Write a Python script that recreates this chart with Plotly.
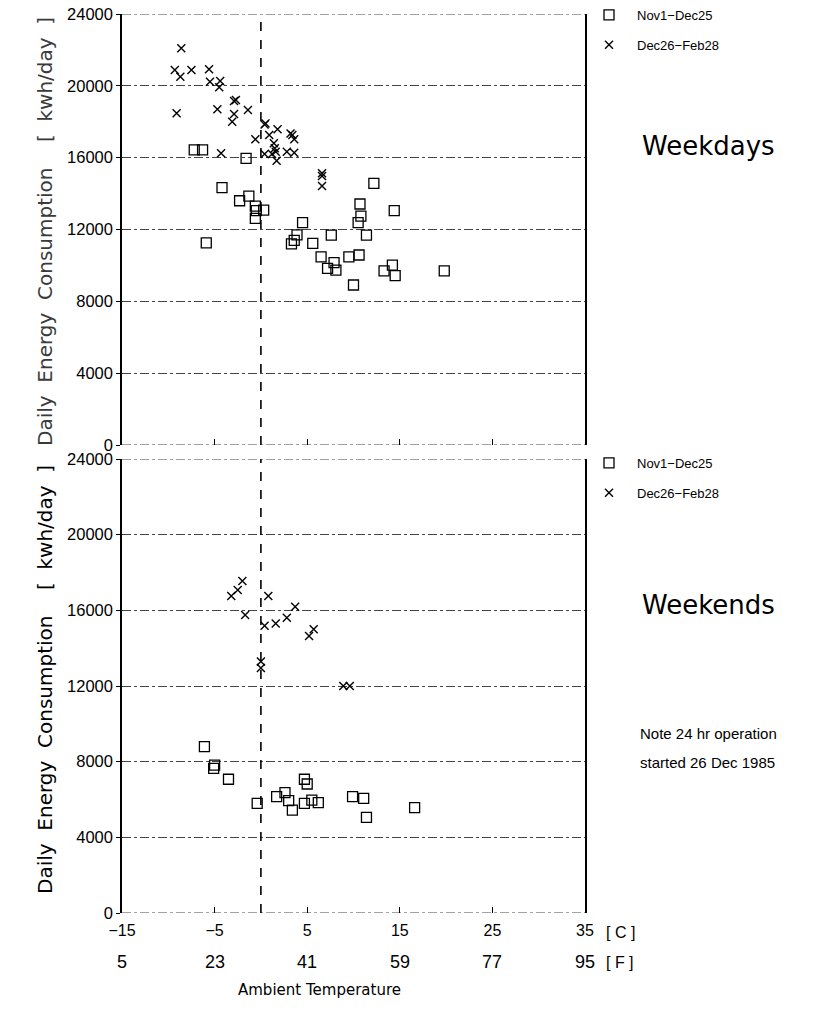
import plotly.graph_objects as go

# ---------------- data (temperature in deg C, consumption in kWh/day) -------------
wd_nov_t = [-7.2, -6.3, -1.6, -4.2, -2.3, -1.3, -0.5, 0.3, -0.6, -0.6, -5.9, 4.5, 12.2, 10.7,
            14.4, 10.8, 10.5, 7.6, 11.4, 5.6, 6.5, 7.9, 7.2, 8.1, 9.5, 10.6, 13.3, 14.2, 14.5,
            10.0, 19.8, 3.3, 3.6, 3.9]
wd_nov_v = [16430, 16430, 15960, 14330, 13600, 13860, 13050, 13080, 12620, 13300, 11250, 12380,
            14570, 13420, 13050, 12750, 12380, 11690, 11690, 11230, 10480, 10150, 9840, 9740,
            10480, 10580, 9700, 10020, 9430, 8910, 9700, 11200, 11400, 11700]
wd_dec_t = [-8.6, -9.3, -8.7, -7.5, -5.6, -5.5, -4.4, -4.5, -9.1, -4.7, -2.9, -2.7, -2.9, -3.1,
            -1.4, 0.5, 0.4, -0.6, 1.8, 0.9, 3.2, 3.4, 3.6, 1.4, 1.5, -4.3, 0.4, 1.2, 1.6, 1.7,
            2.8, 3.6, 6.6, 6.6, 6.6]
wd_dec_v = [22090, 20880, 20510, 20880, 20920, 20230, 20270, 19920, 18470, 18690, 19150, 19210,
            18430, 18000, 18650, 17910, 17850, 17020, 17580, 17260, 17350, 17260, 17020, 16800,
            16520, 16240, 16200, 16200, 16330, 15830, 16330, 16280, 15130, 14980, 14420]
we_nov_t = [-6.1, -5.1, -5.0, -3.5, -0.4, 1.7, 2.6, 3.0, 3.4, 4.7, 5.0, 4.7, 5.5, 6.2, 9.9,
            11.1, 11.4, 16.6]
we_nov_v = [8790, 7650, 7820, 7070, 5800, 6150, 6360, 5940, 5440, 7070, 6820, 5800, 5970, 5830,
            6150, 6060, 5060, 5570]
we_dec_t = [-2.0, -2.5, -3.2, -1.7, 0.8, 3.7, 2.8, 1.6, 0.4, 5.7, 5.2, 0.0, 0.0, 8.9, 9.6]
we_dec_v = [17550, 17070, 16760, 15750, 16760, 16190, 15610, 15310, 15190, 15000, 14640, 13300,
            12950, 12000, 12000]

c_ticks = [-15, -5, 5, 15, 25, 35]
c_labels = ["\u221215", "\u22125", "5", "15", "25", "35"]
f_labels = ["5", "23", "41", "59", "77", "95"]
y_ticks = [0, 4000, 8000, 12000, 16000, 20000, 24000]
y_labels = ["0", "4000", "8000", "12000", "16000", "20000", "24000"]
series_names = ["Nov1\u2212Dec25", "Dec26\u2212Feb28"]

W, H = 830, 1020
OFF = 0  # page body margin is removed below, so the figure starts at the window corner
FONT = "Liberation Sans"
GOTH = "DejaVu Sans"
GRID = "#444444"


def px(x):
    return (x - OFF) / W


def py(y):
    return 1 - (y - OFF) / H


fig = go.Figure()

sq = dict(symbol="square-open", size=10, color="black", line=dict(width=1.3, color="black"))
xm = dict(symbol="x-thin-open", size=8, color="black", line=dict(width=1.4, color="black"))

fig.add_trace(go.Scatter(x=wd_nov_t, y=wd_nov_v, mode="markers", marker=sq, name=series_names[0],
                         xaxis="x", yaxis="y", legend="legend", legendgroup="a"))
fig.add_trace(go.Scatter(x=wd_dec_t, y=wd_dec_v, mode="markers", marker=xm, name=series_names[1],
                         xaxis="x", yaxis="y", legend="legend", legendgroup="b"))
fig.add_trace(go.Scatter(x=we_nov_t, y=we_nov_v, mode="markers", marker=sq, name=series_names[0],
                         xaxis="x2", yaxis="y2", legend="legend2", legendgroup="c"))
fig.add_trace(go.Scatter(x=we_dec_t, y=we_dec_v, mode="markers", marker=xm, name=series_names[1],
                         xaxis="x2", yaxis="y2", legend="legend2", legendgroup="d"))

xdom = [px(122), px(585)]
top_dom = [py(445), py(14)]
bot_dom = [py(913), py(459)]

yax = dict(range=[0, 24000], tickvals=y_ticks, ticktext=y_labels, automargin=False,
           ticklabeloverflow="allow",
           showgrid=True, gridcolor=GRID,
           griddash="dashdot", gridwidth=1, zeroline=False, showline=True, linecolor="black",
           linewidth=1.5, mirror=True, ticks="outside", ticklen=4, tickcolor="black",
           tickfont=dict(family=FONT, size=16.5, color="black"))
xax = dict(range=[-15, 35], domain=xdom, showgrid=False, zeroline=False, showline=False,
           automargin=False, ticklabeloverflow="allow",
           ticks="inside", ticklen=6, tickcolor="black", tickwidth=1.2)

fig.update_layout(
    width=W, height=H, margin=dict(l=0, r=0, t=0, b=0, autoexpand=False),
    paper_bgcolor="white", plot_bgcolor="white",
    font=dict(family=FONT, color="black"),
    xaxis=dict(xax, anchor="y", tickvals=[-5, 5, 15, 25], showticklabels=False),
    yaxis=dict(yax, domain=top_dom, anchor="x"),
    xaxis2=dict(xax, anchor="y2", tickvals=c_ticks, ticktext=c_labels,
                tickfont=dict(family=FONT, size=16, color="black"), ticklabelstandoff=6),
    yaxis2=dict(yax, domain=bot_dom, anchor="x2"),
    legend=dict(x=px(581), y=py(0), xanchor="left", yanchor="top", bgcolor="rgba(0,0,0,0)",
                font=dict(family=FONT, size=13, color="black"), tracegroupgap=10,
                itemwidth=46),
    legend2=dict(x=px(581), y=py(448), xanchor="left", yanchor="top",
                 bgcolor="rgba(0,0,0,0)",
                 font=dict(family=FONT, size=13, color="black"), tracegroupgap=10,
                 itemwidth=46),
    showlegend=True,
)

# boundary grid lines (bottom and top tick values) and the dashed 0 C line, both panels
for xr, yr in (("x", "y"), ("x2", "y2")):
    for v in (y_ticks[0], y_ticks[-1]):
        fig.add_shape(type="line", xref=xr + " domain", yref=yr, x0=0, x1=1, y0=v, y1=v,
                      line=dict(color=GRID, width=1, dash="dashdot"), layer="below")
    fig.add_shape(type="line", xref=xr, yref=yr, x0=0, x1=0, y0=y_ticks[0], y1=y_ticks[-1],
                  line=dict(color="black", width=1.6, dash="dash"))

ann = []
# Fahrenheit tick row, positioned on the Celsius axis scale
for cv, fl in zip(c_ticks, f_labels):
    ann.append(dict(text=fl, x=cv, xref="x2", y=py(962), yref="paper",
                    xanchor="center", yanchor="middle", showarrow=False,
                    font=dict(family=FONT, size=18, color="black")))


def txt(s, x, y, size, family=FONT, **kw):
    d = dict(text=s, x=px(x), y=py(y), xref="paper", yref="paper", xanchor="left",
             yanchor="middle", showarrow=False, font=dict(family=family, size=size,
                                                          color=kw.pop("color", "black")))
    d.update(kw)
    return d


ann.append(txt("Weekdays", 640, 146, 26, GOTH))
ann.append(txt("Weekends", 640, 605, 26, GOTH))
ann.append(txt("Note 24 hr operation", 638, 733, 15))
ann.append(txt("started 26 Dec 1985", 638, 762, 15))
ann.append(txt("[ C ]", 604, 932, 16))
ann.append(txt("[ F ]", 604, 962, 16))
ann.append(txt("Ambient Temperature", 236, 990, 15, GOTH))
ytitle = "Daily  Energy  Consumption    [  kwh/day  ]"
ann.append(txt(ytitle, 45, 232, 20, GOTH, xanchor="center", textangle=-90, color="#3a3a3a"))
ann.append(txt(ytitle, 45, 680, 20, GOTH, xanchor="center", textangle=-90))
fig.update_layout(annotations=ann)

fig.write_html("out.html", config={"displayModeBar": False},
               post_script="document.body.style.margin='0px';")
